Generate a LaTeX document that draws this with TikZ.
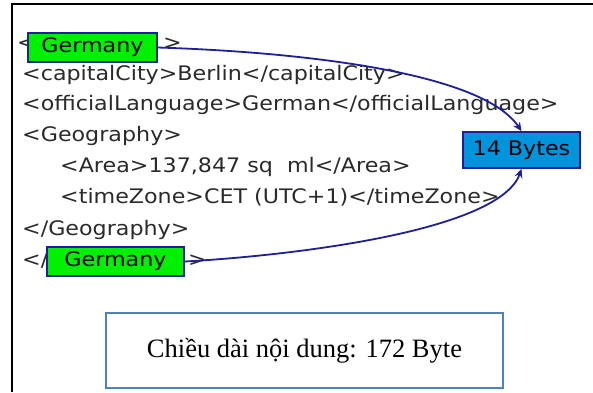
\documentclass[tikz,border=0pt]{standalone}
\usepackage{fontspec}
\setmainfont{Liberation Serif}
\newfontfamily\xmlfont[FakeStretch=1.11]{DejaVu Sans}
\usetikzlibrary{arrows.meta}
\definecolor{xmltext}{HTML}{2A2A2A}
\definecolor{navy}{HTML}{1F1F9A}
\definecolor{gbox}{HTML}{00F000}
\definecolor{bbox}{HTML}{0094DC}
\definecolor{frameblue}{HTML}{4F81BD}
\tikzset{
  xml/.style={anchor=base west, inner sep=0pt, font=\xmlfont\fontsize{20}{20}\selectfont, text=xmltext},
  tagbox/.style={draw=navy, line width=1.6pt, fill=gbox, inner sep=0pt, minimum height=29pt, font=\xmlfont\fontsize{20}{20}\selectfont, text=black},
  bytebox/.style={draw=navy, line width=1.6pt, fill=bbox, inner sep=0pt, minimum width=117pt, minimum height=36pt, font=\xmlfont\fontsize{20}{20}\selectfont, text=black},
  conn/.style={navy, line width=1.8pt, -{Stealth[length=9pt,width=8pt]}},
}
\begin{document}
\begin{tikzpicture}[x=1pt,y=1pt]
\useasboundingbox (0,0) rectangle (593,-392);
\draw[line width=2.5pt] (593,-4) -- (12,-4) -- (12,-392);
% XML lines
\node[xml] (l1a) at (17,-49) {<};
\node[xml] (l1b) at (163,-49) {>};
\node[xml] (l2) at (22,-80) {<capitalCity>Berlin</capitalCity>};
\node[xml] (l3) at (22,-110) {<officialLanguage>German</officialLanguage>};
\node[xml] (l4) at (22,-141) {<Geography>};
\node[xml] (l5) at (60,-172) {<Area>137,847 sq\ \ ml</Area>};
\node[xml] (l6) at (60,-203) {<timeZone>CET (UTC+1)</timeZone>};
\node[xml] (l7) at (22,-235) {</Geography>};
\node[xml] (l8a) at (22,-266) {</};
\node[xml] (l8b) at (188,-266) {>};
% boxes
\node[tagbox, minimum width=129pt] (g1) at (92.5,-47.5) {Germany};
\node[tagbox, minimum width=137pt] (g2) at (115.5,-261.5) {Germany};
\node[bytebox] (bytes) at (521.5,-150) {14 Bytes};
% connectors
\draw[conn] (g1.east) .. controls (300,-52) and (482,-72) .. (bytes.north);
\draw[conn] (g2.east) .. controls (300,-255) and (500,-230) .. (bytes.south);
% caption box
\node[draw=frameblue, line width=1.5pt, minimum width=397pt, minimum height=75pt, inner sep=0pt, font=\fontsize{26.5}{26.5}\selectfont] (cap) at (304.5,-350.5) {Chiều dài nội dung: 172 Byte};
\end{tikzpicture}
\end{document}
